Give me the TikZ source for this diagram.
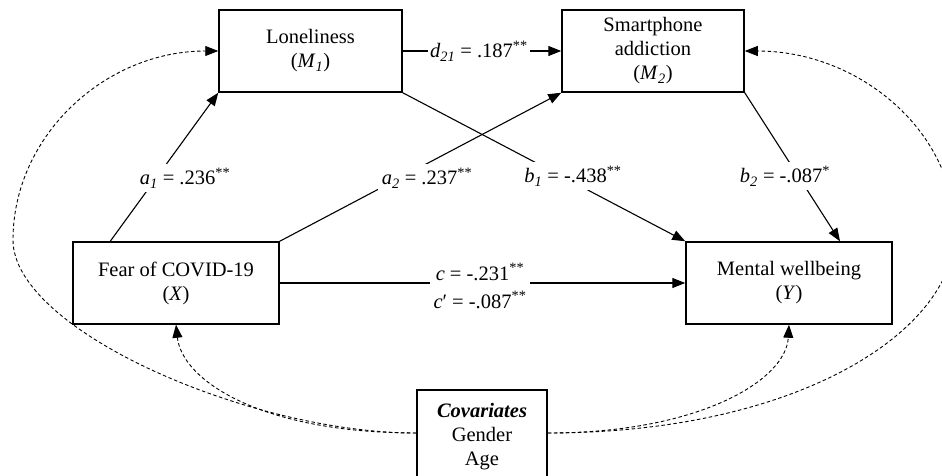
\documentclass[tikz,border=0pt]{standalone}
\usepackage{fontspec}
\setmainfont{Liberation Serif}
\usetikzlibrary{arrows.meta}
\begin{document}
\begin{tikzpicture}[x=1pt,y=-1pt,
  box/.style={draw, line width=1.5pt, align=center, inner sep=0pt,
    font=\fontsize{20.5}{24}\selectfont},
  link/.style={line width=1.1pt, -{Triangle[length=13pt,width=10pt]}},
  covlink/.style={line width=0.9pt, dash pattern=on 3.5pt off 2.5pt,
    -{Triangle[length=13pt,width=10pt]}},
  coef/.style={fill=white, inner sep=4pt, align=center,
    font=\fontsize{20.5}{28}\selectfont}]
  \useasboundingbox (0,0) rectangle (942,476);
  \node[box, minimum width=183pt, minimum height=82pt] (lone) at (310.5,51)
    {Loneliness\\(\textit{M}\textsubscript{\textit{1}})};
  \node[box, minimum width=182pt, minimum height=82pt] (smart) at (653,51)
    {Smartphone\\addiction\\(\textit{M}\textsubscript{\textit{2}})};
  \node[box, minimum width=206pt, minimum height=82pt] (fear) at (176,283)
    {Fear of COVID-19\\(\textit{X})};
  \node[box, minimum width=206pt, minimum height=82pt] (well) at (789,283)
    {Mental wellbeing\\(\textit{Y})};
  \node[box, minimum width=130pt, minimum height=94pt] (covar) at (482,437)
    {\textbf{\textit{Covariates}}\\Gender\\Age};
  \draw[link] ([xshift=38pt]fear.north west) -- (lone.south west);
  \draw[link] (fear.north east) -- (smart.south west);
  \draw[link] (lone.south east) -- (well.north west);
  \draw[link] (smart.south east) -- ([xshift=51pt]well.north);
  \draw[link] (lone.east) -- (smart.west);
  \draw[link] (fear.east) -- (well.west);
  \draw[covlink] ([yshift=4pt]covar.west) .. controls (260,433) and (182,380) .. (fear.south);
  \draw[covlink] ([yshift=4pt]covar.east) .. controls (700,433) and (786,380) .. (well.south);
  \draw[covlink] ([yshift=4pt]covar.west) .. controls (250,433) and (13,330) .. (13,240)
    .. controls (13,136) and (105,51) .. (lone.west);
  \draw[covlink] ([yshift=4pt]covar.east) .. controls (800,433) and (955,330) .. (955,232)
    .. controls (955,132) and (860,51) .. (smart.east);
  \node[coef] (a1) at (185,178) {\textit{a}\textsubscript{\textit{1}} = .236\textsuperscript{**}};
  \node[coef] (a2) at (427,178) {\textit{a}\textsubscript{\textit{2}} = .237\textsuperscript{**}};
  \node[coef] (b1) at (573,176) {\textit{b}\textsubscript{\textit{1}} = -.438\textsuperscript{**}};
  \node[coef] (b2) at (785,176) {\textit{b}\textsubscript{\textit{2}} = -.087\textsuperscript{*}};
  \node[coef, inner sep=2pt] (d21) at (479,51) {\textit{d}\textsubscript{\textit{21}} = .187\textsuperscript{**}};
  \node[coef] (cc) at (480,286) {\textit{c} = -.231\textsuperscript{**}\\\textit{c}′ = -.087\textsuperscript{**}};
\end{tikzpicture}
\end{document}
